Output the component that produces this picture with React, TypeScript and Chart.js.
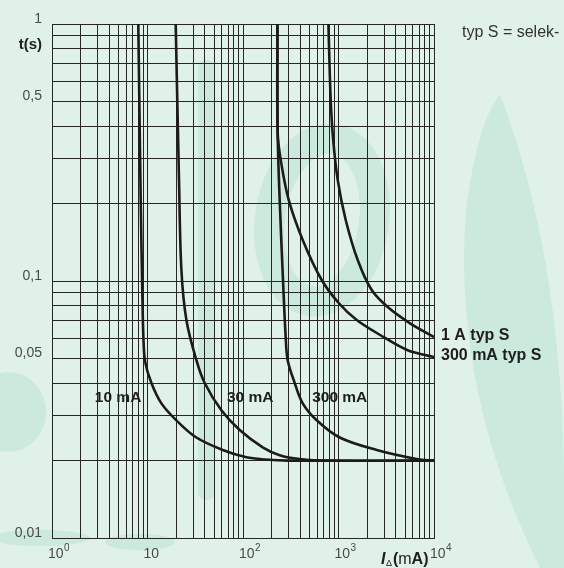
import React, { useEffect, useRef } from "react";
import { Chart, registerables } from "chart.js";

Chart.register(...registerables);

const W = 564;
const H = 568;
const BG = "#e0f1e7";
const MARK = "#cbe9dd";
const GRID = "#262626";
const CURVE = "#1d1a1a";

// ---- data (current in mA, tripping time in s) ----
const i10mA = [8.01, 8.49, 8.86, 9.08, 9.46, 10.99, 13.98, 20.07, 32.5, 61.3, 108.5, 170, 300, 10000];
const t10mA = [1, 0.2067, 0.0843, 0.0589, 0.0484, 0.0401, 0.0334, 0.0287, 0.0246, 0.022, 0.0206, 0.0202, 0.02, 0.02];

const i30mA = [19.74, 21.37, 22.65, 25.54, 32.5, 39.7, 59.4, 92.3, 160.8, 242.2, 392.5, 809, 10000];
const t30mA = [1, 0.2474, 0.1104, 0.0705, 0.0492, 0.0401, 0.0314, 0.0263, 0.02254, 0.021, 0.0203, 0.02, 0.02];

const i300mA = [229.2, 230.9, 242.2, 262.3, 280, 293.8, 347.8, 421.8, 591, 1029, 2512, 6589, 10000];
const t300mA = [1, 0.3705, 0.2067, 0.1009, 0.0605, 0.0492, 0.0401, 0.0334, 0.0287, 0.0246, 0.022, 0.0203, 0.02];

const i300mAS = [229.2, 230.8, 248.2, 301, 421.8, 667, 1005, 1551, 2974, 5304, 10000];
const t300mAS = [1, 0.377, 0.296, 0.2067, 0.1445, 0.1009, 0.0821, 0.0705, 0.0605, 0.0538, 0.0506];

const i1AS = [784, 828.5, 880, 980.8, 1190, 1589, 2227, 3275, 5566, 10000];
const t1AS = [1, 0.507, 0.354, 0.2474, 0.1728, 0.1207, 0.0922, 0.0792, 0.0686, 0.0605];

// ---- axes ----
const xMin = 1;
const xMax = 10000;
const yMin = 0.01;
const yMax = 1;
const xDecadeStarts = [1, 10, 100, 1000];
const yDecadeStarts = [0.01, 0.1];
const gridMultipliers = [1, 2, 3, 4, 5, 6, 7, 8, 9];

const yTickValues = [1, 0.5, 0.1, 0.05, 0.01];
const yTickLabels = ["1", "0,5", "0,1", "0,05", "0,01"];
const xTickValues = [1, 10, 100, 1000, 10000];
const xTickBase = ["10", "10", "10", "10", "10"];
const xTickExp = ["0", "", "2", "3", "4"];

// ---- curve labels ----
const innerLabelText = ["10 mA", "30 mA", "300 mA"];
const innerLabelI = [4.92, 119, 1030];
const innerLabelT = [0.035, 0.035, 0.035];
const endLabelText = ["1 A typ S", "300 mA typ S"];
const noteText = "typ S = selek-";

function gridValues(starts: number[], max: number) {
  const out: number[] = [];
  for (const s of starts) for (const m of gridMultipliers) out.push(+(s * m).toPrecision(6));
  out.push(max);
  return out;
}

function pts(xs: number[], ys: number[]) {
  return xs.map((x, i) => ({ x, y: ys[i] }));
}

function drawWatermark(ctx: CanvasRenderingContext2D) {
  ctx.save();
  ctx.fillStyle = MARK;
  ctx.strokeStyle = MARK;
  // right leaf
  ctx.beginPath();
  ctx.moveTo(500, 95);
  ctx.quadraticCurveTo(560, 250, 564, 470);
  ctx.lineTo(564, 568);
  ctx.lineTo(540, 568);
  ctx.quadraticCurveTo(452, 390, 466, 210);
  ctx.quadraticCurveTo(478, 120, 500, 95);
  ctx.fill();
  // centre ring
  ctx.lineWidth = 30;
  ctx.beginPath();
  ctx.ellipse(322, 220, 52, 82, 0.15, 0, Math.PI * 2);
  ctx.stroke();
  // vertical stroke
  ctx.beginPath();
  ctx.roundRect(198, 60, 17, 440, 8);
  ctx.fill();
  // left blob
  ctx.beginPath();
  ctx.ellipse(8, 412, 38, 40, 0, 0, Math.PI * 2);
  ctx.fill();
  // bottom blobs
  ctx.beginPath();
  ctx.ellipse(40, 538, 50, 8, 0, 0, Math.PI * 2);
  ctx.fill();
  ctx.beginPath();
  ctx.ellipse(140, 542, 35, 8, 0, 0, Math.PI * 2);
  ctx.fill();
  ctx.restore();
}

export default function App() {
  const ref = useRef<HTMLCanvasElement | null>(null);

  useEffect(() => {
    const canvas = ref.current;
    if (!canvas) return;

    const textPlugin = {
      id: "texts",
      beforeDraw(chart: any) {
        const ctx = chart.ctx;
        ctx.save();
        ctx.fillStyle = BG;
        ctx.fillRect(0, 0, W, H);
        ctx.restore();
        drawWatermark(ctx);
      },
      afterDraw(chart: any) {
        const ctx: CanvasRenderingContext2D = chart.ctx;
        const xs = chart.scales.x;
        const ys = chart.scales.y;
        const area = chart.chartArea;
        ctx.save();
        const font = '"Liberation Sans", Arial, Helvetica, sans-serif';

        // y tick labels
        ctx.fillStyle = "#4a4a4a";
        ctx.font = `14px ${font}`;
        ctx.textAlign = "right";
        ctx.textBaseline = "middle";
        yTickValues.forEach((v, i) => {
          ctx.fillText(yTickLabels[i], area.left - 10, ys.getPixelForValue(v) - 5);
        });
        // y title
        ctx.fillStyle = "#1e1e1e";
        ctx.font = `bold 15px ${font}`;
        ctx.fillText("t(s)", area.left - 10, ys.getPixelForValue(0.82) - 1);

        // x tick labels
        ctx.textAlign = "left";
        xTickValues.forEach((v, i) => {
          const px = xs.getPixelForValue(v) - 4;
          const py = area.bottom + 16;
          ctx.fillStyle = "#4a4a4a";
          ctx.font = `14px ${font}`;
          ctx.fillText(xTickBase[i], px, py);
          const w = ctx.measureText(xTickBase[i]).width;
          if (xTickExp[i]) {
            ctx.font = `10px ${font}`;
            ctx.fillText(xTickExp[i], px + w + 0.5, py - 6);
          }
        });

        // x title  I_Δ(mA)
        {
          let px = xs.getPixelForValue(10000) - 53;
          const py = area.bottom + 22;
          ctx.fillStyle = "#1e1e1e";
          ctx.font = `italic bold 16px ${font}`;
          ctx.fillText("I", px, py);
          px += ctx.measureText("I").width + 0.5;
          ctx.font = `9px ${font}`;
          ctx.fillText("Δ", px, py + 4);
          px += ctx.measureText("Δ").width + 1;
          ctx.font = `bold 16px ${font}`;
          ctx.fillText("(", px, py);
          px += ctx.measureText("(").width;
          ctx.font = `16px ${font}`;
          ctx.fillText("m", px, py);
          px += ctx.measureText("m").width;
          ctx.font = `bold 16px ${font}`;
          ctx.fillText("A)", px, py);
        }

        // inner curve labels
        ctx.fillStyle = "#1e1e1e";
        ctx.font = `bold 15.5px ${font}`;
        ctx.textAlign = "center";
        innerLabelText.forEach((t, i) => {
          ctx.fillText(t, xs.getPixelForValue(innerLabelI[i]), ys.getPixelForValue(innerLabelT[i]));
        });

        // end labels (attached to the last point of the typ S curves)
        ctx.textAlign = "left";
        ctx.font = `bold 16px ${font}`;
        const ends = [t1AS[t1AS.length - 1], t300mAS[t300mAS.length - 1]];
        endLabelText.forEach((t, i) => {
          ctx.fillText(t, area.right + 7, ys.getPixelForValue(ends[i]) - 1);
        });

        // note
        ctx.fillStyle = "#333";
        ctx.font = `16px ${font}`;
        ctx.fillText(noteText, area.right + 28, area.top + 9);
        ctx.restore();
      },
    };

    const ds = (data: { x: number; y: number }[]) => ({
      data,
      borderColor: CURVE,
      borderWidth: 2.6,
      pointRadius: 0,
      fill: false,
      tension: 0.35,
      cubicInterpolationMode: "default" as const,
    });

    const xGrid = gridValues(xDecadeStarts, xMax);
    const yGrid = gridValues(yDecadeStarts, yMax);

    const chart = new Chart(canvas, {
      type: "line",
      data: {
        datasets: [
          ds(pts(i10mA, t10mA)),
          ds(pts(i30mA, t30mA)),
          ds(pts(i300mA, t300mA)),
          ds(pts(i300mAS, t300mAS)),
          ds(pts(i1AS, t1AS)),
        ],
      },
      options: {
        animation: false,
        responsive: false,
        devicePixelRatio: 1,
        parsing: false as any,
        layout: { padding: { left: 52, right: W - 434, top: 24, bottom: H - 538 } },
        plugins: { legend: { display: false }, tooltip: { enabled: false } },
        events: [],
        scales: {
          x: {
            type: "logarithmic",
            min: xMin,
            max: xMax,
            afterBuildTicks: (s: any) => {
              s.ticks = xGrid.map((v) => ({ value: v }));
            },
            ticks: { display: false },
            grid: { color: GRID, lineWidth: 1, drawTicks: false },
            border: { display: true, color: GRID, width: 1 },
          },
          y: {
            type: "logarithmic",
            min: yMin,
            max: yMax,
            afterBuildTicks: (s: any) => {
              s.ticks = yGrid.map((v) => ({ value: v }));
            },
            ticks: { display: false },
            grid: { color: GRID, lineWidth: 1, drawTicks: false },
            border: { display: true, color: GRID, width: 1 },
          },
        },
      },
      plugins: [textPlugin],
    });

    return () => chart.destroy();
  }, []);

  return (
    <div style={{ position: "fixed", left: 0, top: 0, width: W, height: H, background: BG }}>
      <canvas ref={ref} width={W} height={H} style={{ display: "block" }} />
    </div>
  );
}
